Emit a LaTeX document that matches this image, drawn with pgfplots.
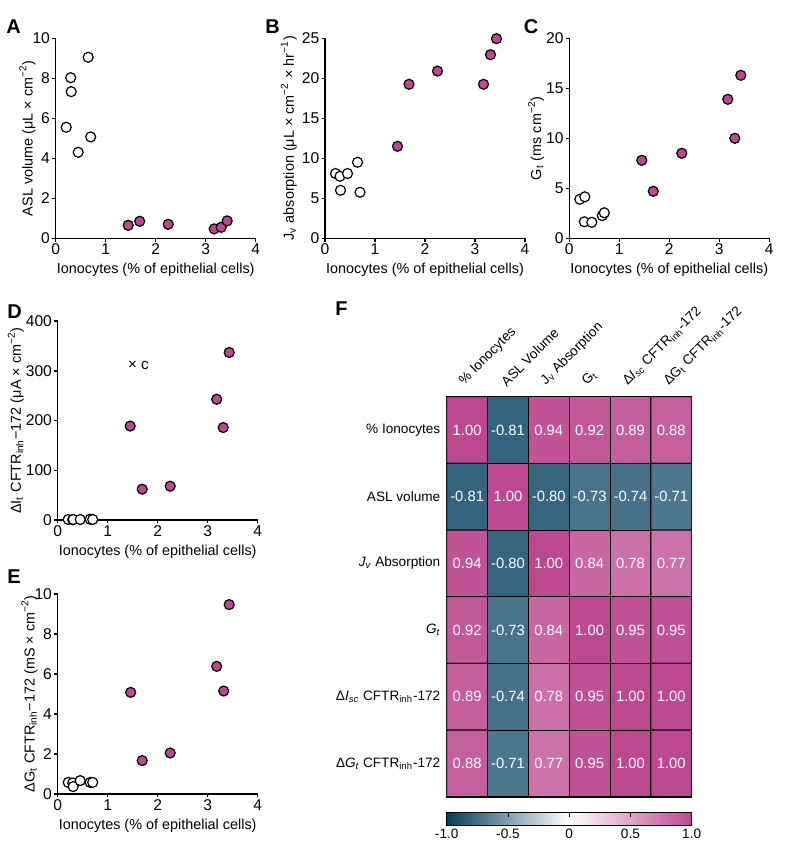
\documentclass[border=0pt]{standalone}
\usepackage{fontspec}
\setmainfont{Liberation Sans}
\usepackage{pgfplots}
\pgfplotsset{compat=1.18}
\usepackage{pgfplotstable}

\definecolor{ionpink}{RGB}{188,73,143}

\pgfplotsset{
  dotax/.style={
    anchor=south west,
    scale only axis, width=100pt, height=100pt,
    axis lines*=left,
    xmin=0, xmax=4, xtick={0,1,2,3,4},
    tick align=outside, major tick length=1.7pt,
    axis line style={line width=0.75pt},
    every tick/.style={line width=0.75pt, black},
    tick label style={font=\fontsize{7.8}{8.5}\selectfont, inner sep=1pt},
    label style={font=\fontsize{7.2}{8.5}\selectfont},
    xlabel={Ionocytes (\% of epithelial cells)},
    xlabel style={yshift=0.5pt},
    clip=false,
    /pgf/number format/assume math mode=true,
  },
  open/.style={only marks, mark=*, mark size=2.5pt,
    mark options={fill=white, draw=black, line width=0.6pt}},
  full/.style={only marks, mark=*, mark size=2.5pt,
    mark options={fill=ionpink, draw=black, line width=0.6pt}},
}

% correlation matrix, row by row
\pgfplotstableread{
x y c
0 0 1.00
1 0 -0.81
2 0 0.94
3 0 0.92
4 0 0.89
5 0 0.88
0 1 -0.81
1 1 1.00
2 1 -0.80
3 1 -0.73
4 1 -0.74
5 1 -0.71
0 2 0.94
1 2 -0.80
2 2 1.00
3 2 0.84
4 2 0.78
5 2 0.77
0 3 0.92
1 3 -0.73
2 3 0.84
3 3 1.00
4 3 0.95
5 3 0.95
0 4 0.89
1 4 -0.74
2 4 0.78
3 4 0.95
4 4 1.00
5 4 1.00
0 5 0.88
1 5 -0.71
2 5 0.77
3 5 0.95
4 5 1.00
5 5 1.00
}\corrdata

\begin{document}
\begin{tikzpicture}
\useasboundingbox (0pt,0pt) rectangle (392.5pt,423.5pt);

\tikzset{panel/.style={anchor=base west, inner sep=0pt, font=\fontsize{10}{11}\selectfont\bfseries}}
\node[panel] at (3pt,406.85pt) {A};
\node[panel] at (132.5pt,406.85pt) {B};
\node[panel] at (261.7pt,406.5pt) {C};
\node[panel] at (3.5pt,264.3pt) {D};
\node[panel] at (3.5pt,131.8pt) {E};
\node[panel] at (167.5pt,265.5pt) {F};

% A
\begin{axis}[dotax, at={(27.85pt,304.35pt)},
  ymin=0, ymax=10, ytick={0,2,...,10},
  ylabel style={yshift=-6pt},
  ylabel={ASL volume (μL × cm\textsuperscript{−2})}]
\addplot[open] coordinates {(0.21,5.55)(0.30,8.03)(0.31,7.33)(0.45,4.30)(0.65,9.05)(0.70,5.07)};
\addplot[full] coordinates {(1.45,0.65)(1.68,0.85)(2.25,0.70)(3.17,0.47)(3.31,0.55)(3.43,0.87)};
\end{axis}

% B
\begin{axis}[dotax, at={(162.5pt,304.35pt)},
  ymin=0, ymax=25, ytick={0,5,...,25},
  ylabel style={yshift=-2pt},
  ylabel={J\textsubscript{v} absorption (μL × cm\textsuperscript{−2} × hr\textsuperscript{−1})}]
\addplot[open] coordinates {(0.21,8.1)(0.30,7.75)(0.31,6.0)(0.45,8.1)(0.65,9.5)(0.70,5.75)};
\addplot[full] coordinates {(1.45,11.5)(1.68,19.25)(2.25,20.9)(3.17,19.25)(3.31,22.95)(3.43,24.95)};
\end{axis}

% C
\begin{axis}[dotax, at={(284.65pt,304.35pt)},
  ymin=0, ymax=20, ytick={0,5,...,20},
  ylabel style={yshift=-3.5pt},
  ylabel={G\textsubscript{t} (ms cm\textsuperscript{−2})}]
\addplot[open] coordinates {(0.21,3.9)(0.31,4.15)(0.30,1.65)(0.45,1.6)(0.66,2.27)(0.70,2.55)};
\addplot[full] coordinates {(1.45,7.8)(1.68,4.7)(2.25,8.5)(3.17,13.9)(3.31,10.0)(3.43,16.3)};
\end{axis}

% D
\begin{axis}[dotax, at={(28.85pt,163.5pt)}, height=99.4pt,
  ymin=0, ymax=400, ytick={0,100,...,400},
  ylabel style={yshift=-3.5pt},
  ylabel={ΔI\textsubscript{t} CFTR\textsubscript{inh}−172 (μA × cm\textsuperscript{−2})}]
\addplot[open] coordinates {(0.21,1)(0.30,0.5)(0.31,1)(0.45,1)(0.65,1.5)(0.70,1)};
\addplot[full] coordinates {(1.45,189)(1.69,62)(2.25,68)(3.18,243)(3.31,186)(3.43,337)};
\node[anchor=west, inner sep=0pt, font=\fontsize{7.6}{8}\selectfont] at (axis cs:1.40,311) {× c};
\end{axis}

% E
\begin{axis}[dotax, at={(28.85pt,26.5pt)},
  ymin=0, ymax=10, ytick={0,2,...,10},
  ylabel style={yshift=-6pt},
  ylabel={ΔG\textsubscript{t} CFTR\textsubscript{inh}−172 (mS × cm\textsuperscript{−2})}]
\addplot[open] coordinates {(0.21,0.58)(0.30,0.55)(0.31,0.37)(0.45,0.67)(0.65,0.58)(0.70,0.58)};
\addplot[full] coordinates {(1.46,5.08)(1.69,1.67)(2.25,2.05)(3.18,6.38)(3.32,5.15)(3.43,9.47)};
\end{axis}

% F heatmap
\begin{axis}[
  at={(223.35pt,25.15pt)}, anchor=south west,
  scale only axis, width=122.5pt, height=200pt,
  xmin=-0.5, xmax=5.5, ymin=-0.5, ymax=5.5, y dir=reverse,
  xtick={0,...,5}, ytick={0,...,5},
  xticklabel pos=right,
  major tick length=0pt,
  xticklabels={\% Ionocytes, ASL Volume, J\textsubscript{v} Absorption, G\textsubscript{t},
    Δ\textit{I}\textsubscript{\textit{sc}} CFTR\textsubscript{inh}-172,
    ΔG\textsubscript{t} CFTR\textsubscript{inh}-172},
  yticklabels={\% Ionocytes, ASL volume, \textit{J\textsubscript{v}} Absorption, \textit{G\textsubscript{t}},
    Δ\textit{I\textsubscript{sc}} CFTR\textsubscript{inh}-172,
    Δ\textit{G\textsubscript{t}} CFTR\textsubscript{inh}-172},
  xticklabel style={xshift=-0.5pt, yshift=4.5pt, rotate=45, anchor=south west,
    inner sep=0pt, font=\fontsize{6.8}{8}\selectfont},
  yticklabel style={xshift=-3pt, inner sep=0pt, font=\fontsize{6.8}{8}\selectfont},
  axis line style={line width=0.8pt},
  colormap={corr}{rgb255=(5,63,94) rgb255=(255,255,255) rgb255=(188,73,143)},
  point meta min=-1, point meta max=1,
  colorbar horizontal,
  colorbar style={
    at={(0.5,-0.04)}, anchor=north,
    scale only axis, width=122.5pt, height=6.2pt,
    xtick={-1,-0.5,0,0.5,1},
    xticklabels={-1.0,-0.5,0,0.5,1.0},
    xtick pos=right, xticklabel pos=left,
    tick align=inside, major tick length=2pt,
    every tick/.style={black, line width=0.4pt},
    xticklabel style={font=\fontsize{6.8}{8}\selectfont, inner sep=1pt, yshift=-1pt},
    axis line style={line width=0.5pt},
  },
]
\addplot[matrix plot*, shader=faceted, faceted color=black, line width=0.5pt,
  mesh/cols=6, point meta=explicit] table[meta=c] \corrdata;
\addplot[only marks, mark=none, nodes near coords, point meta=explicit symbolic,
  nodes near coords style={anchor=center, text=white, font=\fontsize{7.4}{8}\selectfont}]
  table[meta=c] \corrdata;
\end{axis}
\end{tikzpicture}
\end{document}
